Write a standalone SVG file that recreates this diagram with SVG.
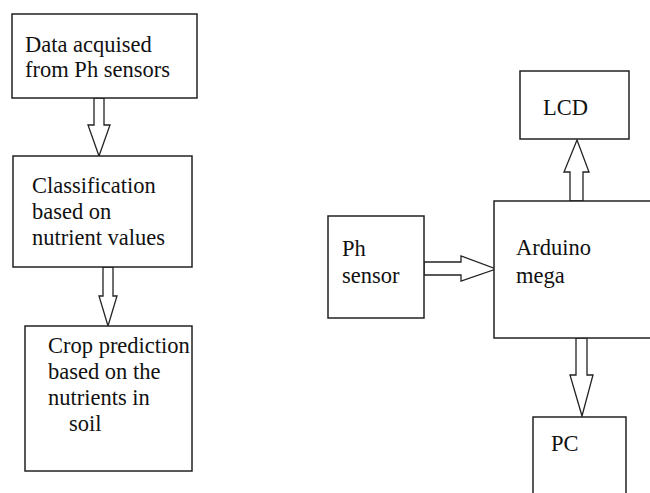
<svg xmlns="http://www.w3.org/2000/svg" width="650" height="493" viewBox="0 0 650 493">
<style>
.box{fill:#fff;stroke:#222;stroke-width:1.5}
.arr{fill:#fff;stroke:#222;stroke-width:1.3;stroke-linejoin:miter}
.t{font-family:'Liberation Serif','DejaVu Serif',serif;font-size:22.5px;fill:#111}
</style>
<rect width="650" height="493" fill="#fff"/>
<g id="connectors">
<polygon class="arr" points="94,98 104,98 104,125 110,125 99,156 88,125 94,125"/>
<polygon class="arr" points="103,267 113,267 113,296 117,296 108,326 99,296 103,296"/>
<polygon class="arr" points="424,262 461,262 461,256 496,269 461,281 461,275 424,275"/>
<polygon class="arr" points="570,201 570,172 564,172 577,140 589,172 583,172 583,201"/>
<polygon class="arr" points="576,338 587,338 587,375 593,375 582,416 570,375 576,375"/>
</g>
<g id="data">
<rect class="box" x="12" y="14" width="185" height="84"/>
<text class="t" x="25" y="52">Data acquised</text>
<text class="t" x="25" y="77">from Ph sensors</text>
</g>
<g id="classification">
<rect class="box" x="13" y="156" width="179" height="111"/>
<text class="t" x="32" y="193">Classification</text>
<text class="t" x="32" y="219">based on</text>
<text class="t" x="32" y="245">nutrient values</text>
</g>
<g id="crop">
<rect class="box" x="25" y="326" width="167" height="145"/>
<text class="t" x="48" y="353">Crop prediction</text>
<text class="t" x="48" y="379">based on the</text>
<text class="t" x="48" y="405">nutrients in</text>
<text class="t" x="69" y="431">soil</text>
</g>
<g id="phsensor">
<rect class="box" x="328" y="216" width="96" height="102"/>
<text class="t" x="342" y="256">Ph</text>
<text class="t" x="342" y="283">sensor</text>
</g>
<g id="arduino">
<rect class="box" x="494" y="201" width="170" height="137"/>
<text class="t" x="516" y="255">Arduino</text>
<text class="t" x="516" y="283">mega</text>
</g>
<g id="lcd">
<rect class="box" x="520" y="71" width="109" height="68"/>
<text class="t" x="543" y="115">LCD</text>
</g>
<g id="pc">
<rect class="box" x="533" y="417" width="93" height="90"/>
<text class="t" x="551" y="451">PC</text>
</g>
</svg>
